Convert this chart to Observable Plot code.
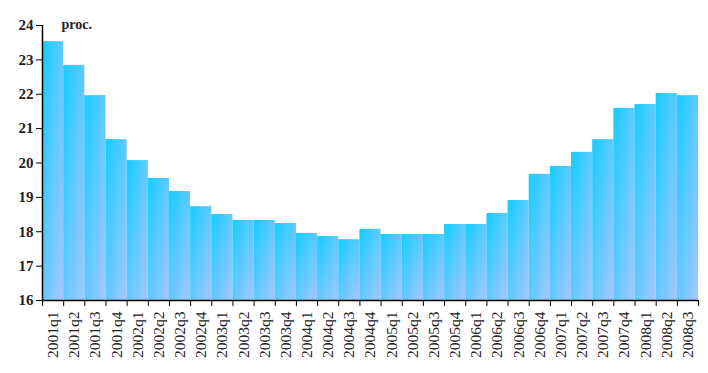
<!DOCTYPE html>
<html>
<head>
<meta charset="utf-8">
<script src="https://cdn.jsdelivr.net/npm/d3@7"></script>
<script src="https://cdn.jsdelivr.net/npm/@observablehq/plot@0.6"></script>
<style>
  html, body { margin: 0; padding: 0; background: #fff; }
  #chart svg { display: block; }
</style>
</head>
<body>
<div id="chart"></div>
<script>
const quarters = [
  "2001q1","2001q2","2001q3","2001q4",
  "2002q1","2002q2","2002q3","2002q4",
  "2003q1","2003q2","2003q3","2003q4",
  "2004q1","2004q2","2004q3","2004q4",
  "2005q1","2005q2","2005q3","2005q4",
  "2006q1","2006q2","2006q3","2006q4",
  "2007q1","2007q2","2007q3","2007q4",
  "2008q1","2008q2","2008q3"
];
const values = [
  23.53, 22.84, 21.96, 20.68,
  20.07, 19.55, 19.17, 18.73,
  18.50, 18.33, 18.33, 18.24,
  17.95, 17.86, 17.77, 18.07,
  17.92, 17.92, 17.92, 18.21,
  18.21, 18.53, 18.91, 19.67,
  19.90, 20.31, 20.68, 21.59,
  21.70, 22.02, 21.96
];
const yTicks = [16, 17, 18, 19, 20, 21, 22, 23, 24];
const unitLabel = "proc.";

const data = quarters.map((q, i) => ({q, i, v: values[i]}));
const boundaries = d3.range(quarters.length + 1);
const centers = quarters.map((q, i) => i + 0.5);

const chart = Plot.plot({
  width: 708,
  height: 373,
  marginLeft: 42,
  marginRight: 10,
  marginTop: 25,
  marginBottom: 73,
  style: {fontFamily: "'Liberation Serif', serif", background: "#fff", color: "#000"},
  x: {domain: [0, quarters.length], axis: null},
  y: {domain: [16, 24], axis: null},
  marks: [
    Plot.rectY(data, {x1: "i", x2: d => d.i + 1, y1: 16, y2: "v", fill: "url(#barGrad)"}),
    Plot.axisY({ticks: yTicks, label: null, tickSize: 6, tickPadding: 3, fontSize: 15, fontWeight: 600, stroke: "#000", fill: "#222", strokeWidth: 1}),
    Plot.axisX({ticks: boundaries, label: null, tickSize: 6, tickFormat: () => "", stroke: "#000"}),
    Plot.axisX({ticks: centers, label: null, tickSize: 0, tickPadding: 11, tickRotate: -90, fontSize: 15.5, fill: "#222",
      tickFormat: d => quarters[Math.round(d - 0.5)]}),
    Plot.ruleX([0], {stroke: "#000", strokeWidth: 1.5}),
    Plot.ruleY([16], {stroke: "#000", strokeWidth: 1.5}),
    Plot.text([unitLabel], {frameAnchor: "top-left", dx: 19, dy: -1, textAnchor: "start", lineAnchor: "middle",
      fontSize: 14, fontWeight: 600, fill: "#222", text: d => d})
  ]
});

const svg = d3.select(chart);
const defs = svg.insert("defs", ":first-child");
const g = defs.append("linearGradient").attr("id", "barGrad")
  .attr("x1", 0).attr("y1", 0).attr("x2", 1).attr("y2", 1);
g.append("stop").attr("offset", "0%").attr("stop-color", "#14cdff");
g.append("stop").attr("offset", "100%").attr("stop-color", "#a8c6ff");

document.getElementById("chart").appendChild(chart);
</script>
</body>
</html>
